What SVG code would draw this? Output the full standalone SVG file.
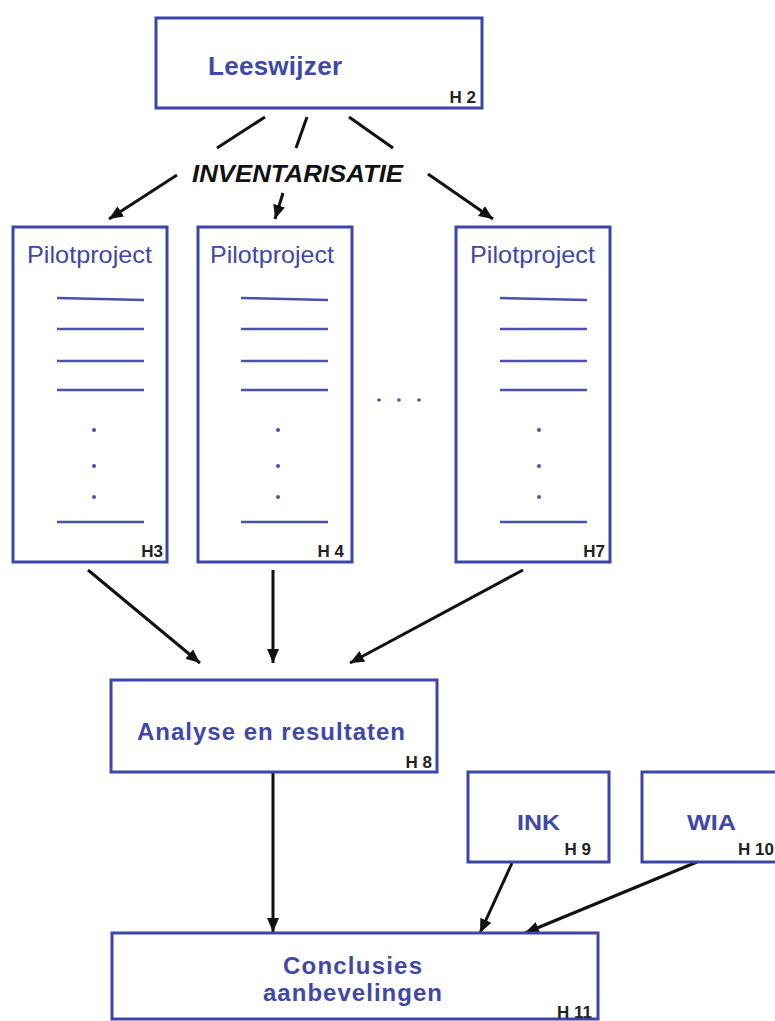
<svg xmlns="http://www.w3.org/2000/svg" width="775" height="1021" viewBox="0 0 775 1021">
  <defs>
    <style>
      .box { fill: #ffffff; stroke: #3d45a8; stroke-width: 3; }
      .label { font-family: "Liberation Sans", Arial, sans-serif; font-weight: bold; fill: #3f47a8; }
      .pilot { font-family: "Liberation Sans", Arial, sans-serif; font-size: 24px; fill: #4047a8; }
      .ch { font-family: "Liberation Sans", Arial, sans-serif; font-weight: bold; font-size: 17px; fill: #222222; text-anchor: end; }
      .row { stroke: #4a51ad; stroke-width: 2.5; }
      .dot { fill: #4a51ad; }
      .conn { stroke: #111111; stroke-width: 3; fill: none; }
    </style>
    <marker id="arrow" markerUnits="userSpaceOnUse" markerWidth="16" markerHeight="14" refX="14" refY="7" orient="auto">
      <path d="M0,1 L14,7 L0,13 Z" fill="#111111"/>
    </marker>
  </defs>

  <rect width="775" height="1021" fill="#ffffff"/>

  <!-- connectors -->
  <g id="connectors">
    <line class="conn" x1="265" y1="117" x2="217" y2="148"/>
    <line class="conn" x1="307" y1="117" x2="296" y2="148"/>
    <line class="conn" x1="349" y1="117" x2="393" y2="148"/>
    <line class="conn" x1="177" y1="175" x2="109" y2="219" marker-end="url(#arrow)"/>
    <line class="conn" x1="283" y1="193" x2="275" y2="219" marker-end="url(#arrow)"/>
    <line class="conn" x1="428" y1="174" x2="493" y2="219" marker-end="url(#arrow)"/>
    <line class="conn" x1="88" y1="570" x2="200" y2="663" marker-end="url(#arrow)"/>
    <line class="conn" x1="273" y1="570" x2="273" y2="663" marker-end="url(#arrow)"/>
    <line class="conn" x1="523" y1="570" x2="350" y2="663" marker-end="url(#arrow)"/>
    <line class="conn" x1="273" y1="772" x2="273" y2="932" marker-end="url(#arrow)"/>
    <line class="conn" x1="512" y1="863" x2="480" y2="933" marker-end="url(#arrow)"/>
    <line class="conn" x1="697" y1="862" x2="525" y2="933" marker-end="url(#arrow)"/>
  </g>

  <!-- reading guide -->
  <g id="leeswijzer">
    <rect class="box" x="156" y="18" width="326" height="90"/>
    <text class="label" x="208" y="75" font-size="26" textLength="134" lengthAdjust="spacing">Leeswijzer</text>
    <text class="ch" x="476" y="103">H 2</text>
  </g>

  <g id="inventarisatie">
    <text x="192" y="182" font-family="Liberation Sans, Arial, sans-serif" font-weight="bold" font-style="italic" font-size="24" fill="#111111" textLength="211" lengthAdjust="spacingAndGlyphs">INVENTARISATIE</text>
  </g>

  <!-- pilot project H3 -->
  <g id="pilot-h3">
    <rect class="box" x="13" y="227" width="154" height="335"/>
    <text class="pilot" x="27" y="263" textLength="125" lengthAdjust="spacingAndGlyphs">Pilotproject</text>
    <line class="row" x1="57" y1="298" x2="144" y2="300"/>
    <line class="row" x1="57" y1="329" x2="144" y2="329"/>
    <line class="row" x1="57" y1="361" x2="144" y2="361"/>
    <line class="row" x1="57" y1="390" x2="144" y2="390"/>
    <circle class="dot" cx="94" cy="430" r="2"/>
    <circle class="dot" cx="94" cy="466" r="2"/>
    <circle class="dot" cx="94" cy="497" r="2"/>
    <line class="row" x1="57" y1="522" x2="144" y2="522"/>
    <text class="ch" x="163" y="557">H3</text>
  </g>

  <!-- pilot project H4 -->
  <g id="pilot-h4">
    <rect class="box" x="198" y="227" width="154" height="335"/>
    <text class="pilot" x="210" y="263" textLength="124" lengthAdjust="spacingAndGlyphs">Pilotproject</text>
    <line class="row" x1="241" y1="298" x2="328" y2="300"/>
    <line class="row" x1="241" y1="329" x2="328" y2="329"/>
    <line class="row" x1="241" y1="361" x2="328" y2="361"/>
    <line class="row" x1="241" y1="390" x2="328" y2="390"/>
    <circle class="dot" cx="278" cy="430" r="2"/>
    <circle class="dot" cx="278" cy="466" r="2"/>
    <circle class="dot" cx="278" cy="497" r="2"/>
    <line class="row" x1="241" y1="522" x2="328" y2="522"/>
    <text class="ch" x="344" y="557">H 4</text>
  </g>

  <!-- ellipsis between projects -->
  <g id="more-projects">
    <circle class="dot" cx="379" cy="400" r="1.8"/>
    <circle class="dot" cx="399" cy="400" r="1.8"/>
    <circle class="dot" cx="419" cy="400" r="1.8"/>
  </g>

  <!-- pilot project H7 -->
  <g id="pilot-h7">
    <rect class="box" x="456" y="227" width="154" height="335"/>
    <text class="pilot" x="470" y="263" textLength="125" lengthAdjust="spacingAndGlyphs">Pilotproject</text>
    <line class="row" x1="500" y1="298" x2="587" y2="300"/>
    <line class="row" x1="500" y1="329" x2="587" y2="329"/>
    <line class="row" x1="500" y1="361" x2="587" y2="361"/>
    <line class="row" x1="500" y1="390" x2="587" y2="390"/>
    <circle class="dot" cx="539" cy="430" r="2"/>
    <circle class="dot" cx="539" cy="466" r="2"/>
    <circle class="dot" cx="539" cy="497" r="2"/>
    <line class="row" x1="500" y1="522" x2="587" y2="522"/>
    <text class="ch" x="605" y="557">H7</text>
  </g>

  <!-- analysis -->
  <g id="analyse">
    <rect class="box" x="111" y="680" width="326" height="92"/>
    <text class="label" x="137" y="740" font-size="24" textLength="268" lengthAdjust="spacing">Analyse  en resultaten</text>
    <text class="ch" x="432" y="768">H 8</text>
  </g>

  <!-- INK -->
  <g id="ink">
    <rect class="box" x="468" y="772" width="141" height="90"/>
    <text class="label" x="517" y="830" font-size="22" textLength="43" lengthAdjust="spacingAndGlyphs">INK</text>
    <text class="ch" x="591" y="855">H 9</text>
  </g>

  <!-- WIA -->
  <g id="wia">
    <rect class="box" x="642" y="772" width="150" height="90"/>
    <text class="label" x="687" y="830" font-size="22" textLength="49" lengthAdjust="spacingAndGlyphs">WIA</text>
    <text class="ch" x="774" y="855">H 10</text>
  </g>

  <!-- conclusions -->
  <g id="conclusies">
    <rect class="box" x="112" y="933" width="486" height="86"/>
    <text class="label" x="283" y="974" font-size="24" textLength="139" lengthAdjust="spacing">Conclusies</text>
    <text class="label" x="263" y="1001" font-size="24" textLength="179" lengthAdjust="spacing">aanbevelingen</text>
    <text class="ch" x="592" y="1018">H 11</text>
  </g>
</svg>
